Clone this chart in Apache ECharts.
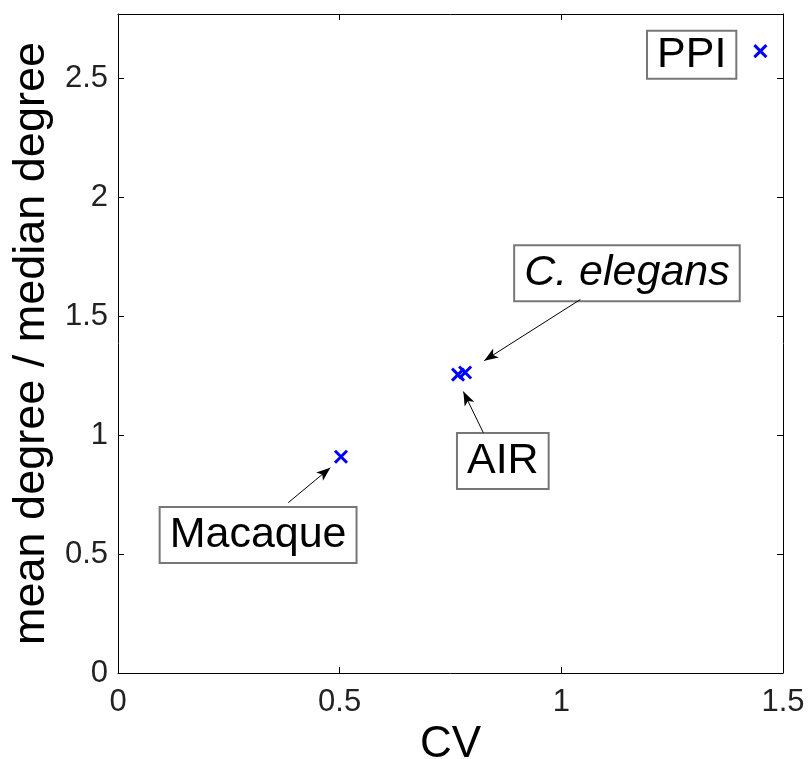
<!DOCTYPE html>
<html>
<head>
<meta charset="utf-8">
<script src="https://cdn.jsdelivr.net/npm/echarts@6/dist/echarts.min.js"></script>
<style>
  html, body { margin: 0; padding: 0; background: #fff; }
  #chart { width: 809px; height: 759px; }
</style>
</head>
<body>
<div id="chart"></div>
<script>
// networks: CV vs mean/median degree
const names = ['Macaque', 'AIR', 'C. elegans', 'PPI'];
const cv = [0.503, 0.767, 0.783, 1.449];
const ratio = [0.909, 1.254, 1.263, 2.614];

// annotation box centres (data coords)
const labelX = [0.316, 0.868, 1.148, 1.294];
const labelY = [0.580, 0.891, 1.680, 2.599];

// arrows: [fromX, fromY, toX, toY]
const arrows = [
  [0.384, 0.716, 0.479, 0.863],
  [0.824, 1.010, 0.779, 1.183],
  [1.043, 1.570, 0.826, 1.313]
];

const xTicks = [0, 0.5, 1, 1.5];
const yTicks = [0, 0.5, 1, 1.5, 2, 2.5];

const crossPath = 'path://M0,0 L10,10 M10,0 L0,10';
const fontFam = '"Liberation Sans", Arial, Helvetica, sans-serif';

const chart = echarts.init(document.getElementById('chart'));

const axisCommon = {
  axisLine: { show: true, onZero: false, lineStyle: { color: '#000', width: 1 } },
  axisTick: { show: true, inside: true, length: 6, lineStyle: { color: '#000' } },
  splitLine: { show: false }
};

chart.setOption({
  animation: false,
  grid: { left: 118, right: 26, top: 14, bottom: 86, outerBoundsMode: 'none', containLabel: false },
  xAxis: [
    {
      ...axisCommon,
      type: 'value', min: 0, max: 1.5, interval: 0.5,
      name: 'CV', nameLocation: 'middle', nameGap: 48,
      nameTextStyle: { fontSize: 44, color: '#000', fontFamily: fontFam },
      axisLabel: { fontSize: 31, color: '#222', margin: 14, fontFamily: fontFam,
        formatter: v => xTicks.includes(v) ? String(v) : '' }
    },
    {
      ...axisCommon,
      type: 'value', min: 0, max: 1.5, interval: 0.5, position: 'top',
      axisLabel: { show: false }
    }
  ],
  yAxis: [
    {
      ...axisCommon,
      type: 'value', min: 0, max: 2.77, interval: 0.5,
      name: 'mean degree / median degree', nameLocation: 'middle', nameGap: 60,
      nameTextStyle: { fontSize: 45, color: '#000', fontFamily: fontFam },
      axisLabel: { fontSize: 31, color: '#222', margin: 10, fontFamily: fontFam, showMaxLabel: false,
        formatter: v => yTicks.includes(v) ? String(v) : '' }
    },
    {
      ...axisCommon,
      type: 'value', min: 0, max: 2.77, interval: 0.5, position: 'right',
      axisLabel: { show: false }
    }
  ],
  series: [
    {
      type: 'scatter',
      symbol: crossPath,
      symbolSize: 12,
      itemStyle: { color: 'none', borderColor: '#0000ff', borderWidth: 3, opacity: 1 },
      data: cv.map((x, i) => [x, ratio[i]]),
      z: 5
    },
    {
      type: 'scatter',
      symbolSize: 0,
      silent: true,
      itemStyle: { opacity: 1 },
      data: names.map((n, i) => ({
        value: [labelX[i], labelY[i]], name: n,
        label: n === 'C. elegans' ? { fontStyle: 'italic' } : (n === 'PPI' ? { padding: [1, 9, 1, 9] } : {})
      })),
      label: {
        show: true,
        position: 'inside',
        formatter: p => p.name,
        fontSize: 43,
        fontFamily: fontFam,
        color: '#000',
        backgroundColor: '#fff',
        borderColor: '#777',
        borderWidth: 2,
        padding: [4, 9, 6, 9],
        lineHeight: 44
      },
      emphasis: { disabled: true },
      markLine: {
        silent: true,
        symbol: ['none', 'arrow'],
        symbolSize: [8, 14],
        label: { show: false },
        lineStyle: { color: '#000', width: 1, type: 'solid', opacity: 1 },
        data: arrows.map(a => [{ coord: [a[0], a[1]] }, { coord: [a[2], a[3]] }])
      }
    }
  ]
});
</script>
</body>
</html>
